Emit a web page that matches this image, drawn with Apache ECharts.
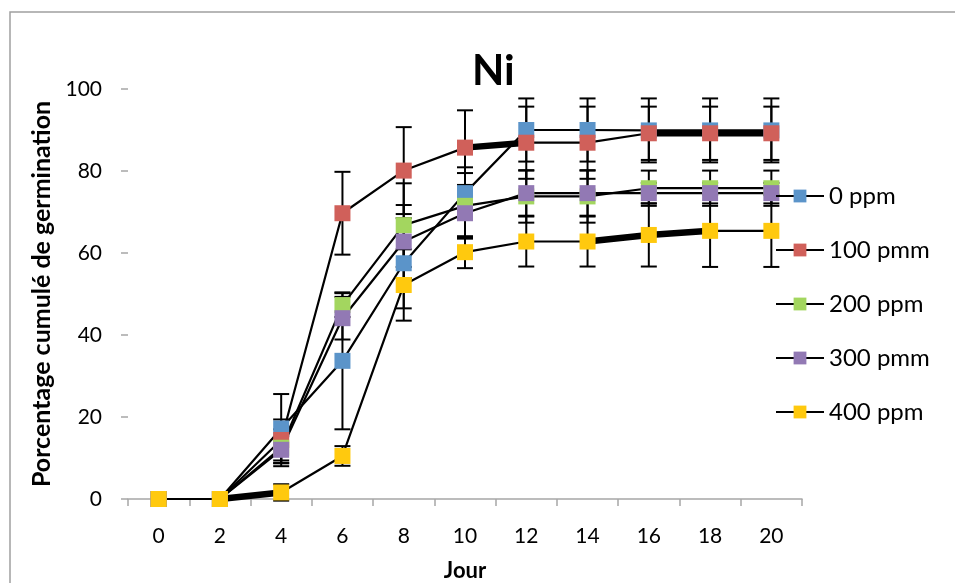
<!DOCTYPE html>
<html>
<head>
<meta charset="utf-8">
<script src="https://cdn.jsdelivr.net/npm/echarts@6/dist/echarts.min.js"></script>
<style>
  html, body { margin: 0; padding: 0; background: #fff; }
  #chart { width: 955px; height: 583px; }
</style>
</head>
<body>
<div id="chart"></div>
<script>
// Days of observation
const days = ['0', '2', '4', '6', '8', '10', '12', '14', '16', '18', '20'];

// Cumulative germination (%) for each Ni concentration
const ppm0   = [0, 0, 17.2, 33.7, 57.5, 74.6, 90.0, 90.0, 89.9, 89.9, 89.9];
const ppm100 = [0, 0, 14.4, 69.7, 80.1, 85.7, 86.9, 86.9, 89.2, 89.2, 89.2];
const ppm200 = [0, 0, 12.5, 47.3, 66.8, 71.5, 73.8, 73.8, 75.8, 75.8, 75.8];
const ppm300 = [0, 0, 12.0, 44.1, 62.8, 69.7, 74.6, 74.6, 74.6, 74.6, 74.6];
const ppm400 = [0, 0, 1.6, 10.5, 52.2, 60.2, 62.8, 62.8, 64.4, 65.4, 65.4];

// Standard errors (±)
const err0   = [0, 0, 8.4, 16.7, 11.0, 6.3, 7.7, 7.7, 7.8, 7.8, 7.8];
const err100 = [0, 0, 5.0, 10.1, 10.6, 9.1, 8.8, 8.8, 6.5, 6.5, 6.5];
const err200 = [0, 0, 4.5, 2.9, 10.2, 8.0, 6.4, 6.4, 4.3, 4.3, 4.3];
const err300 = [0, 0, 3.3, 5.2, 8.9, 6.0, 5.5, 5.5, 2.5, 2.5, 2.5];
const err400 = [0, 0, 2.0, 2.4, 8.7, 3.9, 6.1, 6.1, 7.7, 8.8, 8.8];

const seriesNames = ['0 ppm', '100 pmm', '200 ppm', '300 pmm', '400 ppm'];
const yTicks = [0, 20, 40, 60, 80, 100];

const values = [ppm0, ppm100, ppm200, ppm300, ppm400];
const errors = [err0, err100, err200, err300, err400];
const colors = ['#5B94C9', '#D0605A', '#A3D65F', '#9279B4', '#FFC90E'];

const FONT = 'Lato, "Noto Sans", sans-serif';

// Error bars: vertical whisker with caps
function errorSeries(idx) {
  const data = values[idx].map((v, i) => [i, v, errors[idx][i]]).filter(d => d[2] > 0);
  return {
    type: 'custom',
    name: seriesNames[idx] + ' err',
    silent: true,
    z: 1,
    data: data,
    encode: { x: 0, y: 1 },
    renderItem: function (params, api) {
      const x = api.value(0), v = api.value(1), e = api.value(2);
      const hi = api.coord([x, v + e]);
      const lo = api.coord([x, v - e]);
      const cap = 8;
      const style = { stroke: '#000', lineWidth: 2 };
      return {
        type: 'group',
        children: [
          { type: 'line', shape: { x1: hi[0], y1: hi[1], x2: lo[0], y2: lo[1] }, style: style },
          { type: 'line', shape: { x1: hi[0] - cap, y1: hi[1], x2: hi[0] + cap, y2: hi[1] }, style: style },
          { type: 'line', shape: { x1: lo[0] - cap, y1: lo[1], x2: lo[0] + cap, y2: lo[1] }, style: style }
        ]
      };
    }
  };
}

function lineSeries(idx) {
  return {
    type: 'line',
    name: seriesNames[idx],
    data: values[idx],
    z: 3,
    symbol: 'rect',
    symbolSize: 16,
    showAllSymbol: true,
    itemStyle: { color: colors[idx] },
    lineStyle: { color: '#000', width: 2.2 },
    emphasis: { disabled: true },
    animation: false
  };
}

// Heavier stroke on the stretches where the curves coincide
function heavySegment(idx, from, to) {
  const data = values[idx].map((v, i) => (i >= from && i <= to ? v : null));
  return {
    type: 'line',
    name: seriesNames[idx] + ' heavy ' + from,
    data: data,
    z: 2,
    symbol: 'none',
    silent: true,
    connectNulls: false,
    lineStyle: { color: '#000', width: 6.5 },
    animation: false
  };
}

const series = [];
for (let i = 0; i < 5; i++) series.push(errorSeries(i));
series.push(heavySegment(4, 1, 2));
series.push(heavySegment(1, 5, 6));
series.push(heavySegment(4, 7, 9));
series.push(heavySegment(1, 8, 10));
for (let i = 0; i < 5; i++) series.push(lineSeries(i));

const chart = echarts.init(document.getElementById('chart'), null, { renderer: 'canvas' });
chart.setOption({
  animation: false,
  backgroundColor: '#fff',
  graphic: [{
    type: 'rect',
    shape: { x: 10, y: 12, width: 1000, height: 700 },
    style: { fill: 'none', stroke: '#a0a0a0', lineWidth: 1.5 },
    z: -1
  }],
  title: {
    text: 'Ni',
    left: 467,
    top: 45,
    textStyle: { fontFamily: FONT, fontSize: 42, fontWeight: 'bold', color: '#000' }
  },
  legend: {
    data: seriesNames,
    orient: 'vertical',
    left: 770,
    top: 179,
    itemWidth: 48,
    itemHeight: 16,
    itemGap: 30,
    textStyle: { fontFamily: FONT, fontSize: 24, color: '#000', lineHeight: 24 },
    selectedMode: false
  },
  grid: { left: 128, top: 89, width: 674, height: 410, containLabel: false, outerBoundsMode: 'none' },
  xAxis: {
    type: 'category',
    data: days,
    boundaryGap: true,
    name: 'Jour',
    nameLocation: 'middle',
    nameGap: 61,
    nameTextStyle: { fontFamily: FONT, fontSize: 22, fontWeight: 'bold', color: '#000' },
    axisLine: { lineStyle: { color: '#a6a6a6', width: 1.5 } },
    axisTick: { show: true, interval: 0, length: 7, lineStyle: { color: '#a6a6a6', width: 1.5 } },
    axisLabel: { interval: 0, margin: 27, fontFamily: FONT, fontSize: 21, color: '#000' },
    splitLine: { show: false }
  },
  yAxis: {
    type: 'value',
    min: yTicks[0],
    max: yTicks[yTicks.length - 1],
    interval: 20,
    name: 'Porcentage cumulé de germination',
    nameLocation: 'middle',
    nameGap: 74,
    nameRotate: 90,
    nameTextStyle: { fontFamily: FONT, fontSize: 25, fontWeight: 'bold', color: '#000' },
    axisLine: { show: false },
    axisTick: { show: true, length: 7, lineStyle: { color: '#a6a6a6', width: 1.5 } },
    axisLabel: { margin: 26, fontFamily: FONT, fontSize: 21, color: '#000' },
    splitLine: { show: false }
  },
  series: series
});
</script>
</body>
</html>
